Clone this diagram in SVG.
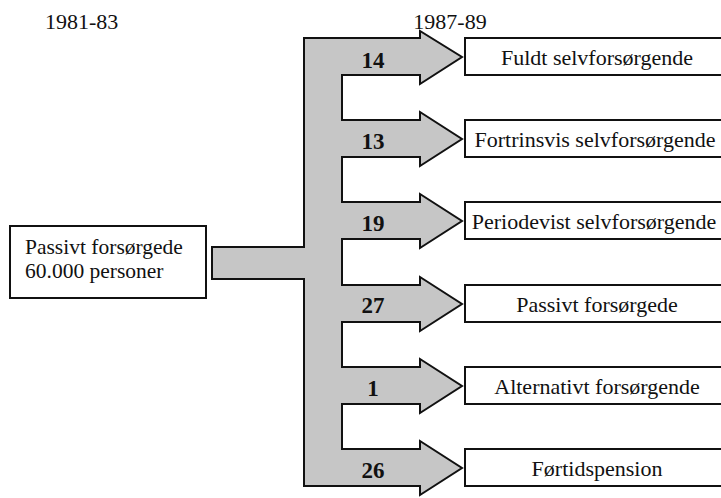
<svg xmlns="http://www.w3.org/2000/svg" width="721" height="498" viewBox="0 0 721 498" font-family="'Liberation Serif', 'DejaVu Serif', serif">
<style>
  text { font-family: 'Liberation Serif', 'DejaVu Serif', serif; font-size: 22px; fill: #111; }
  .box { fill: #fff; stroke: #111; stroke-width: 2; }
  .lbl { text-anchor: middle; font-size: 22px; }
  .src { font-size: 21.5px; }
  .num { font-weight: bold; font-size: 23px; text-anchor: middle; }
  .flow { fill: #c6c6c6; stroke: #111; stroke-width: 2; stroke-linejoin: miter; }
</style>
<rect width="721" height="498" fill="#fff"/>
<text x="45" y="29">1981-83</text>
<text x="450" y="29" text-anchor="middle">1987-89</text>

<g id="connectors">
  <path class="flow" d="M304,38 H420 V31 L462,57 L420,84 V75 H342 V120 H420 V112 L462,139 L420,166 V157 H342 V202 H420 V194 L462,221 L420,248 V239 H342 V285 H420 V277 L462,304 L420,331 V322 H342 V367 H420 V359 L462,386 L420,413 V404 H342 V449 H420 V441 L462,468 L420,495 V486 H304 V279 H212 V247 H304 Z"/>
  <text class="num" x="373" y="68">14</text>
  <text class="num" x="373" y="149">13</text>
  <text class="num" x="373" y="231">19</text>
  <text class="num" x="373" y="313">27</text>
  <text class="num" x="373" y="396">1</text>
  <text class="num" x="373" y="478">26</text>
</g>

<g id="source">
  <rect class="box" x="10" y="226" width="196" height="72"/>
  <text class="src" x="25" y="254">Passivt forsørgede</text>
  <text class="src" x="25" y="278">60.000 personer</text>
</g>

<g id="fuldt">
  <rect class="box" x="465" y="38" width="270" height="37"/>
  <text class="lbl" x="597" y="65">Fuldt selvforsørgende</text>
</g>
<g id="fortrinsvis">
  <rect class="box" x="465" y="120" width="270" height="37"/>
  <text class="lbl" x="595" y="147">Fortrinsvis selvforsørgende</text>
</g>
<g id="periodevist">
  <rect class="box" x="465" y="202" width="270" height="37"/>
  <text class="lbl" x="594" y="229">Periodevist selvforsørgende</text>
</g>
<g id="passivt">
  <rect class="box" x="465" y="285" width="270" height="37"/>
  <text class="lbl" x="597" y="312">Passivt forsørgede</text>
</g>
<g id="alternativt">
  <rect class="box" x="465" y="367" width="270" height="37"/>
  <text class="lbl" x="597" y="394">Alternativt forsørgende</text>
</g>
<g id="fortid">
  <rect class="box" x="465" y="449" width="270" height="37"/>
  <text class="lbl" x="597" y="476">Førtidspension</text>
</g>
</svg>
